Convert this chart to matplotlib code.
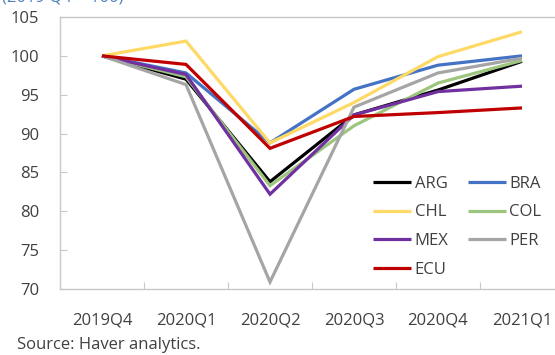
import matplotlib
matplotlib.use("Agg")
import matplotlib.pyplot as plt

# Quarterly real GDP index, 2019Q4 = 100
quarters = ["2019Q4", "2020Q1", "2020Q2", "2020Q3", "2020Q4", "2021Q1"]

arg = [100, 97.0, 83.8, 92.4, 95.6, 99.3]
bra = [100, 97.8, 88.8, 95.7, 98.8, 100.0]
chl = [100, 101.9, 88.8, 94.0, 99.9, 103.1]
col = [100, 97.3, 83.3, 91.0, 96.5, 99.4]
mex = [100, 97.6, 82.2, 92.4, 95.4, 96.1]
per = [100, 96.3, 70.9, 93.4, 97.8, 99.7]
ecu = [100, 98.9, 88.1, 92.2, 92.7, 93.3]

series = [
    ("ARG", arg, "#000000"),
    ("BRA", bra, "#4472C4"),
    ("CHL", chl, "#FFD966"),
    ("COL", col, "#9CC57E"),
    ("MEX", mex, "#7030A0"),
    ("PER", per, "#A5A5A5"),
    ("ECU", ecu, "#C00000"),
]

plt.rcParams["font.family"] = ["Open Sans", "DejaVu Sans"]
text_color = "#404040"
axis_color = "#C8C8C8"

W, H = 555, 355
fig = plt.figure(figsize=(W / 100, H / 100), dpi=100)
ax = fig.add_axes([60 / W, 66 / H, 504 / W, 272 / H])

x = range(len(quarters))
lines = {}
for name, vals, color in series:
    (ln,) = ax.plot(x, vals, color=color, lw=2.3, label=name,
                    solid_joinstyle="miter", solid_capstyle="butt")
    lines[name] = ln

ax.set_xlim(-0.5, len(quarters) - 0.5)
ax.set_ylim(70, 105)
ax.set_yticks(range(70, 106, 5))
ax.set_xticks(list(x))
ax.set_xticklabels(quarters)
ax.set_xticks([i + 0.5 for i in range(len(quarters) - 1)], minor=True)

ax.tick_params(axis="y", direction="in", length=5, width=0.8, color=axis_color,
               labelsize=12, labelcolor=text_color, pad=15)
ax.tick_params(axis="x", which="major", length=0, labelsize=12,
               labelcolor=text_color, pad=17)
ax.tick_params(axis="x", which="minor", direction="in", length=5, width=0.8,
               color=axis_color)

for side in ("left", "bottom", "top"):
    ax.spines[side].set_color(axis_color)
    ax.spines[side].set_linewidth(1.0)
ax.spines["right"].set_visible(False)

order = ["ARG", "CHL", "MEX", "ECU", "BRA", "COL", "PER"]
leg = ax.legend([lines[n] for n in order], order, ncol=2, frameon=False,
                loc="upper left", bbox_to_anchor=(373 / W, 1 - 176 / H),
                bbox_transform=fig.transFigure, borderpad=0, borderaxespad=0,
                handlelength=2.3, handletextpad=0.2, columnspacing=1.15,
                labelspacing=0.75, fontsize=12)
for t in leg.get_texts():
    t.set_color(text_color)

fig.text(2 / W, 1 - 1.5 / H, "(2019 Q4 = 100)", color="#4F81BD", fontsize=12,
         ha="left", va="baseline")
fig.text(17 / W, 1 - 345 / H, "Source: Haver analytics.", color=text_color,
         fontsize=12, ha="left", va="center")

fig.savefig("out.png", dpi=100)
